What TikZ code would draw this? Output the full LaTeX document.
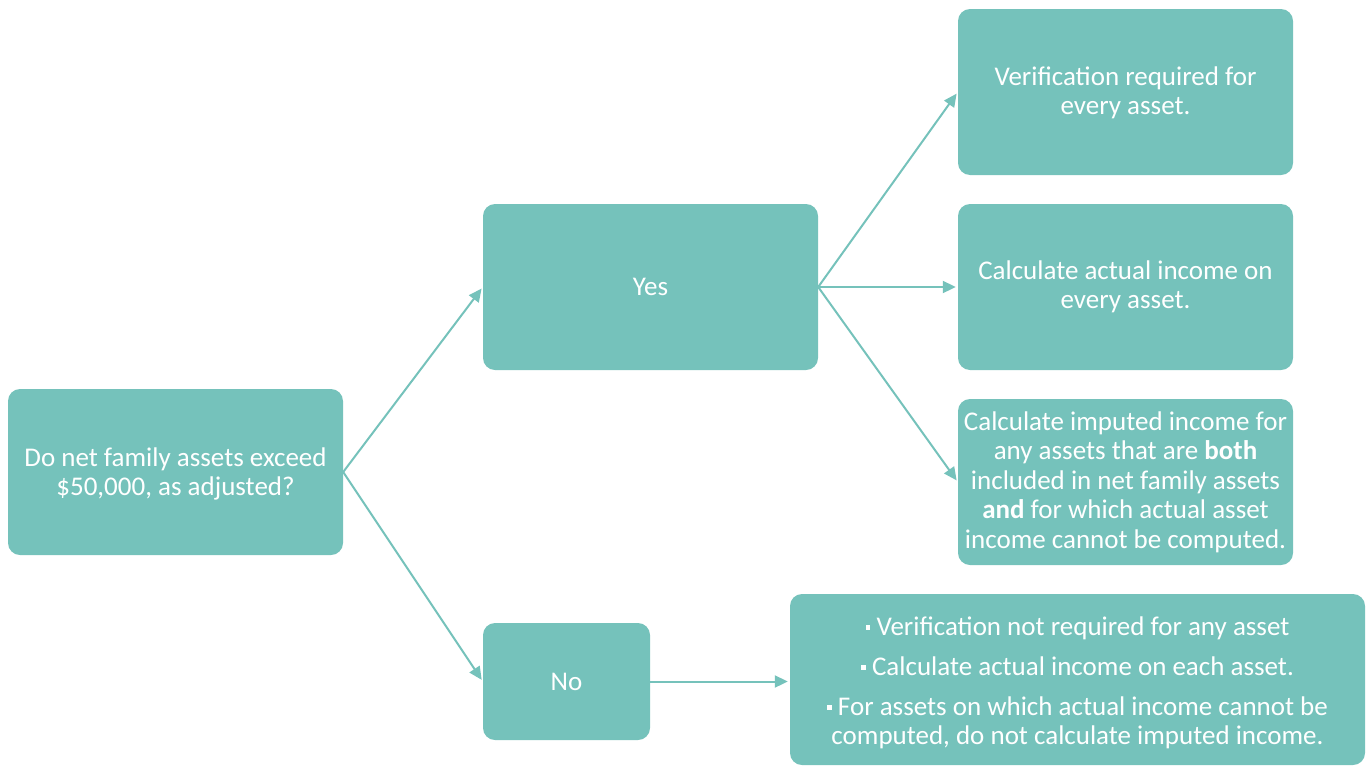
\documentclass[tikz,border=0pt]{standalone}
\usepackage{fontspec}
\setmainfont{Carlito}
\usetikzlibrary{arrows.meta}
\definecolor{teal}{HTML}{75C2BB}
\tikzset{
  box/.style={draw=none, fill=teal, rounded corners=12pt, text=white, inner sep=0pt,
    align=center, font=\fontsize{27}{29.5}\selectfont},
  lbl/.style={text=white, inner sep=0pt, align=center, font=\fontsize{27}{29.5}\selectfont},
  conn/.style={draw=teal, line width=2pt, -{Triangle[length=13pt,width=12pt]}, shorten >=2pt}
}
\newcommand{\bul}{\raisebox{0.22em}{\rule{0.18em}{0.18em}}\ }
\begin{document}
\begin{tikzpicture}[x=1pt,y=-1pt]
\useasboundingbox (0,0) rectangle (1366,766);
\node[box, minimum width=335pt, minimum height=166pt] (q) at (175.5,472) {};
\node[lbl] (qt) at ([yshift=-2pt]q.center) {Do net family assets exceed\\\$50,000, as adjusted?};
\node[box, minimum width=335pt, minimum height=166pt] (yes) at (650.5,287) {Yes};
\node[box, minimum width=167pt, minimum height=117pt] (no) at (566.5,681.5) {No};
\node[box, minimum width=335pt, minimum height=166pt] (r1) at (1125.5,92) {};
\node[lbl] (r1t) at ([yshift=-1pt]r1.center) {Verification required for\\every asset.};
\node[box, minimum width=335pt, minimum height=166pt] (r2) at (1125.5,287) {Calculate actual income on\\every asset.};
\node[box, minimum width=335pt, minimum height=166pt] (r3) at (1125.5,482) {Calculate imputed income for\\any assets that are \textbf{both}\\included in net family assets\\\textbf{and} for which actual asset\\income cannot be computed.};
\node[box, minimum width=575pt, minimum height=171pt] (r4) at (1077.5,679.5) {};
\node[lbl] (r4t) at ([yshift=-3.5pt]r4.center) {\bul Verification not required for any asset\\[10.5pt]\bul Calculate actual income on each asset.\\[10.5pt]\bul For assets on which actual income cannot be\\computed, do not calculate imputed income.};
\draw[conn] (q.east) -- (yes.west);
\draw[conn] (q.east) -- (no.west);
\draw[conn] (yes.east) -- (r1.west);
\draw[conn] (yes.east) -- (r2.west);
\draw[conn] (yes.east) -- (r3.west);
\draw[conn] (no.east) -- (no.east -| r4.west);
\end{tikzpicture}
\end{document}
